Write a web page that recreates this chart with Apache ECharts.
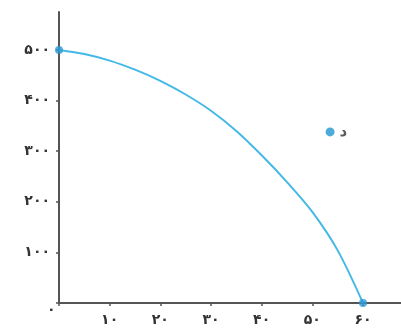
<!DOCTYPE html>
<html>
<head>
<meta charset="utf-8">
<script src="https://cdn.jsdelivr.net/npm/echarts@6/dist/echarts.min.js"></script>
<style>
html,body{margin:0;padding:0;background:#fff;}
#main{width:401px;height:333px;}
</style>
</head>
<body>
<div id="main"></div>
<script>
// 曲线上的点 (x, y)
var curveX = [0, 5, 10, 15, 20, 25, 30, 35, 40, 45, 50, 55, 60];
var curveY = [500, 492, 479, 461, 439, 412, 380, 340, 292, 239, 180, 104, 0];
// 单独的点 د
var pointD = [53.5, 338];
var pointName = 'د';
// 刻度文字（波斯数字）
var xTicks = {10: '۱۰', 20: '۲۰', 30: '۳۰', 40: '۴۰', 50: '۵۰', 60: '۶۰'};
var yTicks = {100: '۱۰۰', 200: '۲۰۰', 300: '۳۰۰', 400: '۴۰۰', 500: '۵۰۰'};
var originLabel = '۰';

var myChart = echarts.init(document.getElementById('main'));

var lineData = [];
for (var i = 0; i < curveX.length; i++) {
	lineData.push([curveX[i], curveY[i]]);
}

var axisColor = '#555';
var labelStyle = {
	color: '#333',
	fontFamily: 'DejaVu Sans',
	fontSize: 14,
	fontWeight: 'bold'
};

var option = {
	animation: false,
	grid: {
		left: 59,
		right: 0,
		top: 12,
		bottom: 30
	},
	xAxis: {
		type: 'value',
		min: 0,
		max: 67.5,
		interval: 10,
		splitLine: {show: false},
		axisLine: {lineStyle: {color: axisColor, width: 2}},
		axisTick: {length: 3, lineStyle: {color: axisColor, width: 1.5}},
		axisLabel: Object.assign({
			margin: 10,
			showMaxLabel: false,
			formatter: function (v) {
				return xTicks[v] || '';
			}
		}, labelStyle)
	},
	yAxis: {
		type: 'value',
		min: 0,
		max: 575,
		interval: 100,
		splitLine: {show: false},
		axisLine: {lineStyle: {color: axisColor, width: 2}},
		axisTick: {length: 3, lineStyle: {color: axisColor, width: 1.5}},
		axisLabel: Object.assign({
			margin: 9,
			showMaxLabel: false,
			formatter: function (v) {
				return yTicks[v] || '';
			}
		}, labelStyle)
	},
	graphic: [{
		type: 'text',
		left: 47,
		top: 303,
		style: {
			text: originLabel,
			fill: '#333',
			font: 'bold 14px "DejaVu Sans"'
		}
	}],
	series: [{
		type: 'line',
		data: lineData,
		smooth: 0.3,
		symbol: 'none',
		lineStyle: {color: '#45b9e6', width: 2},
		z: 2
	}, {
		type: 'scatter',
		data: [lineData[0], lineData[lineData.length - 1]],
		symbolSize: 8,
		itemStyle: {color: '#2a9ad6'},
		z: 3
	}, {
		type: 'scatter',
		data: [pointD],
		symbolSize: 9,
		itemStyle: {color: '#2196d3'},
		label: {
			show: true,
			position: 'right',
			distance: 5,
			formatter: pointName,
			color: '#333',
			fontSize: 15,
			fontWeight: 'bold',
			fontFamily: 'DejaVu Sans'
		},
		z: 3
	}]
};

myChart.setOption(option);
</script>
</body>
</html>
